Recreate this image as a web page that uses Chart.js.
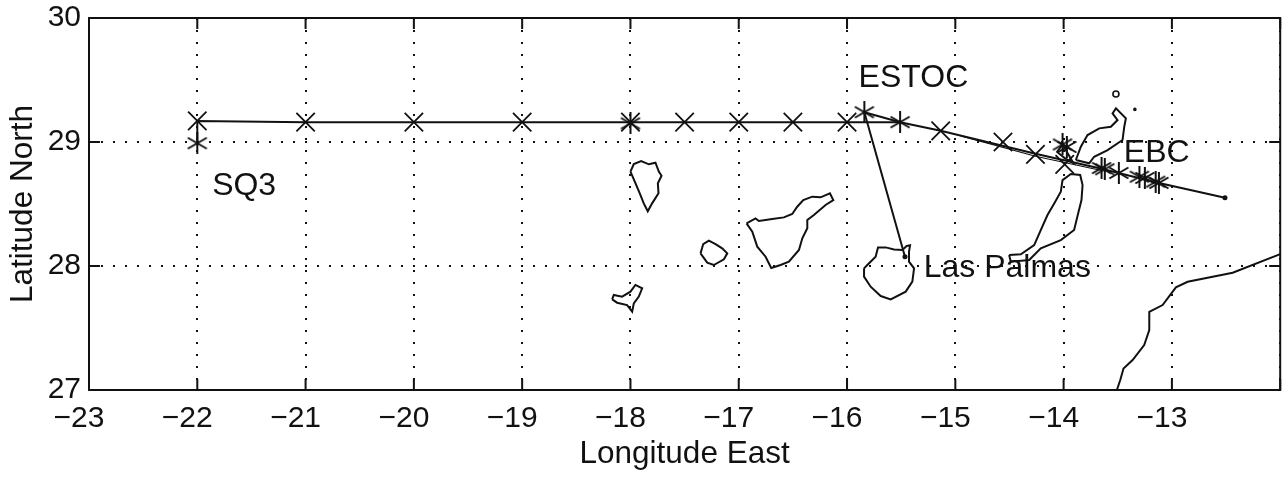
<!DOCTYPE html>
<html>
<head>
<meta charset="utf-8">
<title>Track chart</title>
<script src="https://cdn.jsdelivr.net/npm/chart.js@4"></script>
<style>
html, body { margin: 0; padding: 0; background: #fff; overflow: hidden; }
#wrap { width: 1288px; height: 479px; overflow: hidden; }
</style>
</head>
<body>
<div id="wrap"><canvas id="myChart" width="1295" height="479"></canvas></div>
<script>
// tick labels
const xTickLabels = ['−23', '−22', '−21', '−20', '−19', '−18', '−17', '−16', '−15', '−14', '−13', ''];
const yTickLabels = ['27', '28', '29', '30'];

// stations, marked x
const crossLon = [-22, -21, -20, -19, -18, -17.5, -17, -16.5, -16, -15.135, -14.56, -14.26, -13.99];
const crossLat = [29.17, 29.16, 29.16, 29.16, 29.16, 29.16, 29.16, 29.16, 29.16, 29.09, 29.0, 28.9, 28.82];

// stations, marked *
const starLon = [-22, -18, -15.84, -15.51, -14.01, -13.97, -13.65, -13.62, -13.49, -13.3, -13.25, -13.15, -13.12];
const starLat = [28.99, 29.15, 29.24, 29.16, 28.98, 28.96, 28.79, 28.78, 28.75, 28.72, 28.71, 28.68, 28.67];

// ship track
const outLon = [-22, -22, -21, -20, -19, -18, -17, -16, -15.51];
const outLat = [28.99, 29.17, 29.16, 29.16, 29.16, 29.16, 29.16, 29.16, 29.16];
const legLon = [-15.465, -15.84, -15.51, -15.135, -14.26, -13.65, -13.15, -12.51];
const legLat = [28.075, 29.24, 29.16, 29.09, 28.905, 28.785, 28.675, 28.55];
const backLon = [-14.95, -14.26, -13.65];
const backLat = [29.05, 28.885, 28.77];
const spurLon = [-14.01, -13.91, -13.99, -14.06, -14.01];
const spurLat = [28.98, 28.83, 28.87, 28.92, 28.98];

// coastlines
const laPalmaLon = [-18, -17.969, -17.901, -17.83, -17.769, -17.738, -17.713, -17.747, -17.741, -17.8, -17.84, -17.877, -17.914, -17.96, -18];
const laPalmaLat = [28.761, 28.822, 28.847, 28.82, 28.833, 28.761, 28.728, 28.667, 28.586, 28.505, 28.441, 28.505, 28.586, 28.68, 28.761];
const gomeraLon = [-17.353, -17.328, -17.276, -17.214, -17.153, -17.106, -17.137, -17.23, -17.291, -17.353];
const gomeraLat = [28.102, 28.177, 28.204, 28.177, 28.142, 28.102, 28.054, 28.008, 28.027, 28.102];
const tenerifeLon = [-16.928, -16.845, -16.814, -16.691, -16.583, -16.506, -16.46, -16.404, -16.321, -16.244, -16.158, -16.127, -16.198, -16.306, -16.367, -16.367, -16.413, -16.444, -16.537, -16.614, -16.7, -16.752, -16.829, -16.875, -16.928];
const tenerifeLat = [28.344, 28.384, 28.363, 28.379, 28.392, 28.419, 28.478, 28.532, 28.559, 28.554, 28.586, 28.532, 28.492, 28.411, 28.371, 28.304, 28.223, 28.129, 28.035, 28.008, 27.984, 28.075, 28.156, 28.277, 28.344];
const hierroLon = [-18.169, -18.154, -18.077, -18, -17.954, -17.892, -17.923, -17.969, -17.984, -18.031, -18.123, -18.169];
const hierroLat = [27.731, 27.766, 27.753, 27.793, 27.847, 27.82, 27.753, 27.699, 27.632, 27.685, 27.704, 27.731];
const granCanariaLon = [-15.843, -15.813, -15.736, -15.714, -15.643, -15.566, -15.489, -15.449, -15.418, -15.428, -15.428, -15.381, -15.397, -15.458, -15.597, -15.689, -15.782, -15.843, -15.843];
const granCanariaLat = [27.981, 28.008, 28.075, 28.15, 28.15, 28.134, 28.129, 28.161, 28.167, 28.115, 28.035, 27.981, 27.874, 27.793, 27.731, 27.758, 27.833, 27.914, 27.981];
const fuerteLon = [-14.503, -14.395, -14.272, -14.211, -14.149, -14.087, -14.026, -14.01, -13.933, -13.847, -13.825, -13.835, -13.866, -13.903, -14.026, -14.211, -14.318, -14.488, -14.503];
const fuerteLat = [28.088, 28.094, 28.169, 28.29, 28.411, 28.505, 28.599, 28.693, 28.742, 28.734, 28.653, 28.532, 28.424, 28.29, 28.209, 28.142, 28.048, 28.035, 28.088];
const lanzaroteLon = [-13.887, -13.841, -13.779, -13.671, -13.564, -13.502, -13.548, -13.517, -13.425, -13.44, -13.456, -13.594, -13.718, -13.764, -13.887];
const lanzaroteLat = [28.855, 28.962, 29.056, 29.11, 29.123, 29.177, 29.231, 29.271, 29.191, 29.123, 29.016, 28.935, 28.881, 28.828, 28.855];
const africaLon = [-13.508, -13.477, -13.447, -13.363, -13.256, -13.209, -13.209, -13.086, -12.963, -12.855, -12.439, -12];
const africaLat = [27, 27.08, 27.174, 27.242, 27.363, 27.484, 27.631, 27.685, 27.828, 27.873, 27.946, 28.096];

// track ends and tiny islets
const endLon = [-15.465, -12.51];
const endLat = [28.075, 28.55];
const isletLon = [-13.517, -13.342];
const isletLat = [29.387, 29.263];

// place names
const placeNames = ['ESTOC', 'EBC', 'Las Palmas', 'SQ3'];
const placeLon = [-15.893, -13.444, -15.292, -21.863];
const placeLat = [29.444, 28.839, 27.911, 28.573];

const ink = '#111';
const fontFamily = '"Liberation Sans", Arial, sans-serif';

function zip(lons, lats) {
    return lons.map((lon, i) => ({ x: lon, y: lats[i] }));
}

function lineSet(lons, lats, width) {
    return {
        data: zip(lons, lats),
        showLine: true,
        borderColor: ink,
        borderWidth: width,
        pointRadius: 0,
        tension: 0
    };
}

// matlab style six armed asterisk, chart.js only has the eight armed one
function asterisk(size) {
    const c = document.createElement('canvas');
    c.width = size;
    c.height = size;
    const g = c.getContext('2d');
    g.strokeStyle = ink;
    g.lineWidth = 2;
    g.translate(size / 2, size / 2);
    for (let i = 0; i < 3; i++) {
        g.beginPath();
        g.moveTo(0, -size / 2);
        g.lineTo(0, size / 2);
        g.stroke();
        g.rotate(Math.PI / 3);
    }
    return c;
}

// closed axes box, inward ticks and the place names
const boxPlugin = {
    id: 'box',
    afterDatasetsDraw(chart) {
        const g = chart.ctx;
        const a = chart.chartArea;
        const sx = chart.scales.x;
        const sy = chart.scales.y;
        const tick = 11;
        g.save();
        g.strokeStyle = ink;
        g.lineWidth = 2;
        g.setLineDash([]);
        g.strokeRect(a.left, a.top, a.right - a.left, a.bottom - a.top);
        sx.ticks.forEach((t) => {
            const p = sx.getPixelForValue(t.value);
            g.beginPath();
            g.moveTo(p, a.bottom);
            g.lineTo(p, a.bottom - tick);
            g.moveTo(p, a.top);
            g.lineTo(p, a.top + tick);
            g.stroke();
        });
        sy.ticks.forEach((t) => {
            const p = sy.getPixelForValue(t.value);
            g.beginPath();
            g.moveTo(a.left, p);
            g.lineTo(a.left + tick, p);
            g.moveTo(a.right, p);
            g.lineTo(a.right - tick, p);
            g.stroke();
        });
        g.fillStyle = ink;
        g.font = '32px ' + fontFamily;
        g.textAlign = 'left';
        g.textBaseline = 'alphabetic';
        placeNames.forEach((name, i) => {
            g.fillText(name, sx.getPixelForValue(placeLon[i]), sy.getPixelForValue(placeLat[i]));
        });
        g.restore();
    }
};

// label overhang must not push the plot area around
function noPadding(scale) {
    scale.paddingLeft = 0;
    scale.paddingRight = 0;
    scale.paddingTop = 0;
    scale.paddingBottom = 0;
}

const coasts = [
    [laPalmaLon, laPalmaLat], [gomeraLon, gomeraLat], [tenerifeLon, tenerifeLat],
    [hierroLon, hierroLat], [granCanariaLon, granCanariaLat], [fuerteLon, fuerteLat],
    [lanzaroteLon, lanzaroteLat], [africaLon, africaLat]
];

const datasets = coasts.map((c) => lineSet(c[0], c[1], 2));
datasets.push(lineSet(outLon, outLat, 2));
datasets.push(lineSet(legLon, legLat, 2));
datasets.push(lineSet(backLon, backLat, 1.2));
datasets.push(lineSet(spurLon, spurLat, 2));
datasets.push({
    data: zip(crossLon, crossLat),
    pointStyle: 'crossRot',
    pointRadius: 13,
    pointBorderColor: ink,
    pointBorderWidth: 1.8,
    showLine: false
});
datasets.push({
    data: zip(starLon, starLat),
    pointStyle: asterisk(22),
    showLine: false
});
datasets.push({
    data: zip(endLon, endLat),
    pointStyle: 'circle',
    pointRadius: 2.5,
    pointBackgroundColor: ink,
    pointBorderWidth: 0,
    showLine: false
});
datasets.push({
    data: zip(isletLon, isletLat),
    pointStyle: 'circle',
    pointRadius: [3, 1],
    pointBackgroundColor: '#fff',
    pointBorderColor: ink,
    pointBorderWidth: 1.6,
    showLine: false
});

const axisFont = { family: fontFamily, size: 30 };
const gridLines = {
    color: ink,
    lineWidth: 2,
    drawTicks: false
};

new Chart(document.getElementById('myChart').getContext('2d'), {
    type: 'scatter',
    data: { datasets: datasets },
    plugins: [boxPlugin],
    options: {
        responsive: false,
        animation: false,
        layout: { padding: { top: 18, right: 1, left: 0, bottom: 0 } },
        plugins: { legend: { display: false }, tooltip: { enabled: false } },
        scales: {
            x: {
                type: 'linear',
                min: -23,
                max: -12,
                afterFit: (scale) => { scale.height = 89; noPadding(scale); },
                grid: gridLines,
                border: { display: false, dash: [2, 10] },
                ticks: {
                    stepSize: 1,
                    autoSkip: false,
                    maxRotation: 0,
                    padding: 11,
                    labelOffset: -10,
                    color: ink,
                    font: axisFont,
                    callback: (value) => xTickLabels[Math.round(value + 23)]
                },
                title: {
                    display: true,
                    text: 'Longitude East',
                    color: ink,
                    font: { family: fontFamily, size: 31.5 },
                    padding: { top: 0, bottom: 6 }
                }
            },
            y: {
                type: 'linear',
                min: 27,
                max: 30,
                afterFit: (scale) => { scale.width = 89; noPadding(scale); },
                grid: gridLines,
                border: { display: false, dash: [2, 10] },
                ticks: {
                    stepSize: 1,
                    autoSkip: false,
                    padding: 8,
                    color: ink,
                    font: axisFont,
                    callback: (value) => yTickLabels[Math.round(value - 27)]
                },
                title: {
                    display: true,
                    text: 'Latitude North',
                    color: ink,
                    font: { family: fontFamily, size: 31.5 },
                    padding: { top: 4, bottom: 0 }
                }
            }
        }
    }
});
</script>
</body>
</html>
